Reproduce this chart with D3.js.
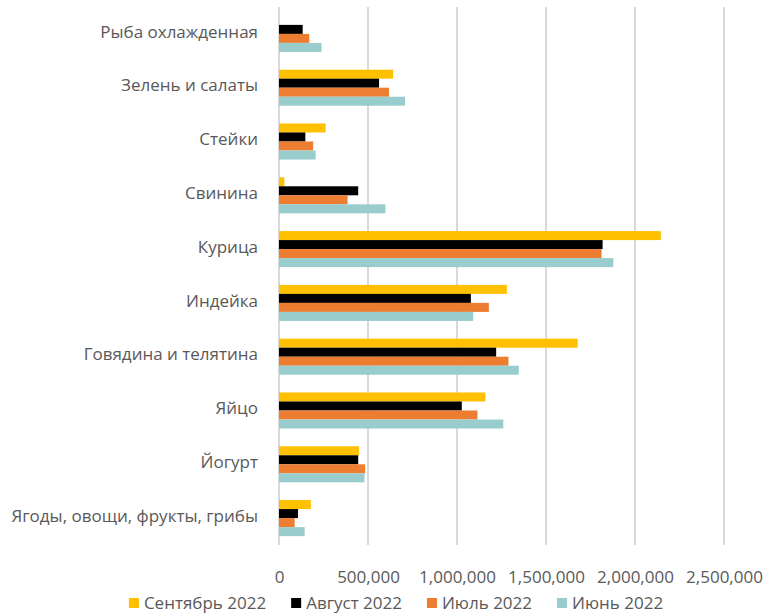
<!DOCTYPE html>
<html lang="ru">
<head>
<meta charset="utf-8">
<script src="https://d3js.org/d3.v7.min.js"></script>
<title>Продажи по категориям</title>
<style>
  body { margin: 0; background: #fff; }
  text { font-family: "Open Sans", sans-serif; fill: #595959; }
</style>
</head>
<body>
<div id="chart"></div>
<script>
// categories top to bottom
var categories = ["Рыба охлажденная", "Зелень и салаты", "Стейки", "Свинина", "Курица",
                  "Индейка", "Говядина и телятина", "Яйцо", "Йогурт", "Ягоды, овощи, фрукты, грибы"];
var seriesNames = ["Сентябрь 2022", "Август 2022", "Июль 2022", "Июнь 2022"];
var seriesColors = ["#ffc000", "#000000", "#ed7d31", "#99cccc"];

var sep2022 = [0, 641000, 262000, 30000, 2145000, 1280000, 1678000, 1159000, 450000, 179000];
var aug2022 = [133000, 562000, 148000, 445000, 1818000, 1078000, 1220000, 1027000, 445000, 107000];
var jul2022 = [170000, 618000, 192000, 385000, 1812000, 1179000, 1289000, 1115000, 484000, 88000];
var jun2022 = [239000, 708000, 206000, 598000, 1878000, 1091000, 1347000, 1260000, 480000, 144000];

var xTicks = [0, 500000, 1000000, 1500000, 2000000, 2500000];

var values = [sep2022, aug2022, jul2022, jun2022];

var W = 766, H = 615;
var margin = {top: 7, right: 42, bottom: 70, left: 279};
var width = W - margin.left - margin.right,
    height = H - margin.top - margin.bottom;

var svg = d3.select("#chart").append("svg")
    .attr("width", W)
    .attr("height", H);

var g = svg.append("g")
    .attr("transform", "translate(" + margin.left + "," + margin.top + ")");

var x = d3.scaleLinear().domain([0, 2500000]).range([0, width]);

var y0 = d3.scaleBand().domain(categories).range([0, height])
    .paddingInner(0.33).paddingOuter(0.165);
var y1 = d3.scaleBand().domain(seriesNames).range([0, y0.bandwidth()]);

// gridlines
g.append("g")
  .selectAll("line")
  .data(xTicks)
  .enter().append("line")
    .attr("x1", function(d) { return x(d); })
    .attr("x2", function(d) { return x(d); })
    .attr("y1", 0)
    .attr("y2", height)
    .attr("stroke", "#d9d9d9")
    .attr("stroke-width", 2);

// tick labels
var xAxis = g.append("g")
    .attr("transform", "translate(0," + height + ")")
    .call(d3.axisBottom(x).tickValues(xTicks).tickSize(0).tickPadding(26)
        .tickFormat(d3.format(",")));
xAxis.select(".domain").remove();
xAxis.selectAll("text").style("font-size", "17px").attr("fill", "#595959");

// category labels
var yAxis = g.append("g")
    .call(d3.axisLeft(y0).tickSize(0).tickPadding(21));
yAxis.select(".domain").remove();
yAxis.selectAll("text").style("font-size", "17px").attr("fill", "#595959").attr("dy", "0.22em");

// bars
var groups = g.selectAll(".cat")
  .data(categories)
  .enter().append("g")
    .attr("class", "cat")
    .attr("transform", function(d) { return "translate(0," + y0(d) + ")"; });

groups.selectAll("rect")
  .data(function(d, i) {
      return seriesNames.map(function(s, j) { return {name: s, value: values[j][i], color: seriesColors[j]}; });
  })
  .enter().append("rect")
    .attr("x", x(0))
    .attr("y", function(d) { return y1(d.name); })
    .attr("width", function(d) { return x(d.value) - x(0); })
    .attr("height", y1.bandwidth())
    .attr("fill", function(d) { return d.color; });

// legend
var legend = svg.append("g").attr("transform", "translate(0,603)");
var items = legend.selectAll(".item")
  .data(seriesNames)
  .enter().append("g")
    .attr("class", "item");
items.append("rect")
    .attr("width", 10).attr("height", 10)
    .attr("y", -5)
    .attr("fill", function(d, i) { return seriesColors[i]; });
items.append("text")
    .attr("x", 15)
    .attr("dy", "0.35em")
    .style("font-size", "17px")
    .text(function(d) { return d; });

var gap = 25, offs = 0, pos = [];
items.each(function() {
    pos.push(offs);
    offs += 15 + this.querySelector("text").getComputedTextLength() + gap;
});
var total = offs - gap;
var startX = 396 - total / 2;
items.attr("transform", function(d, i) { return "translate(" + (startX + pos[i]) + ",0)"; });
</script>
</body>
</html>
